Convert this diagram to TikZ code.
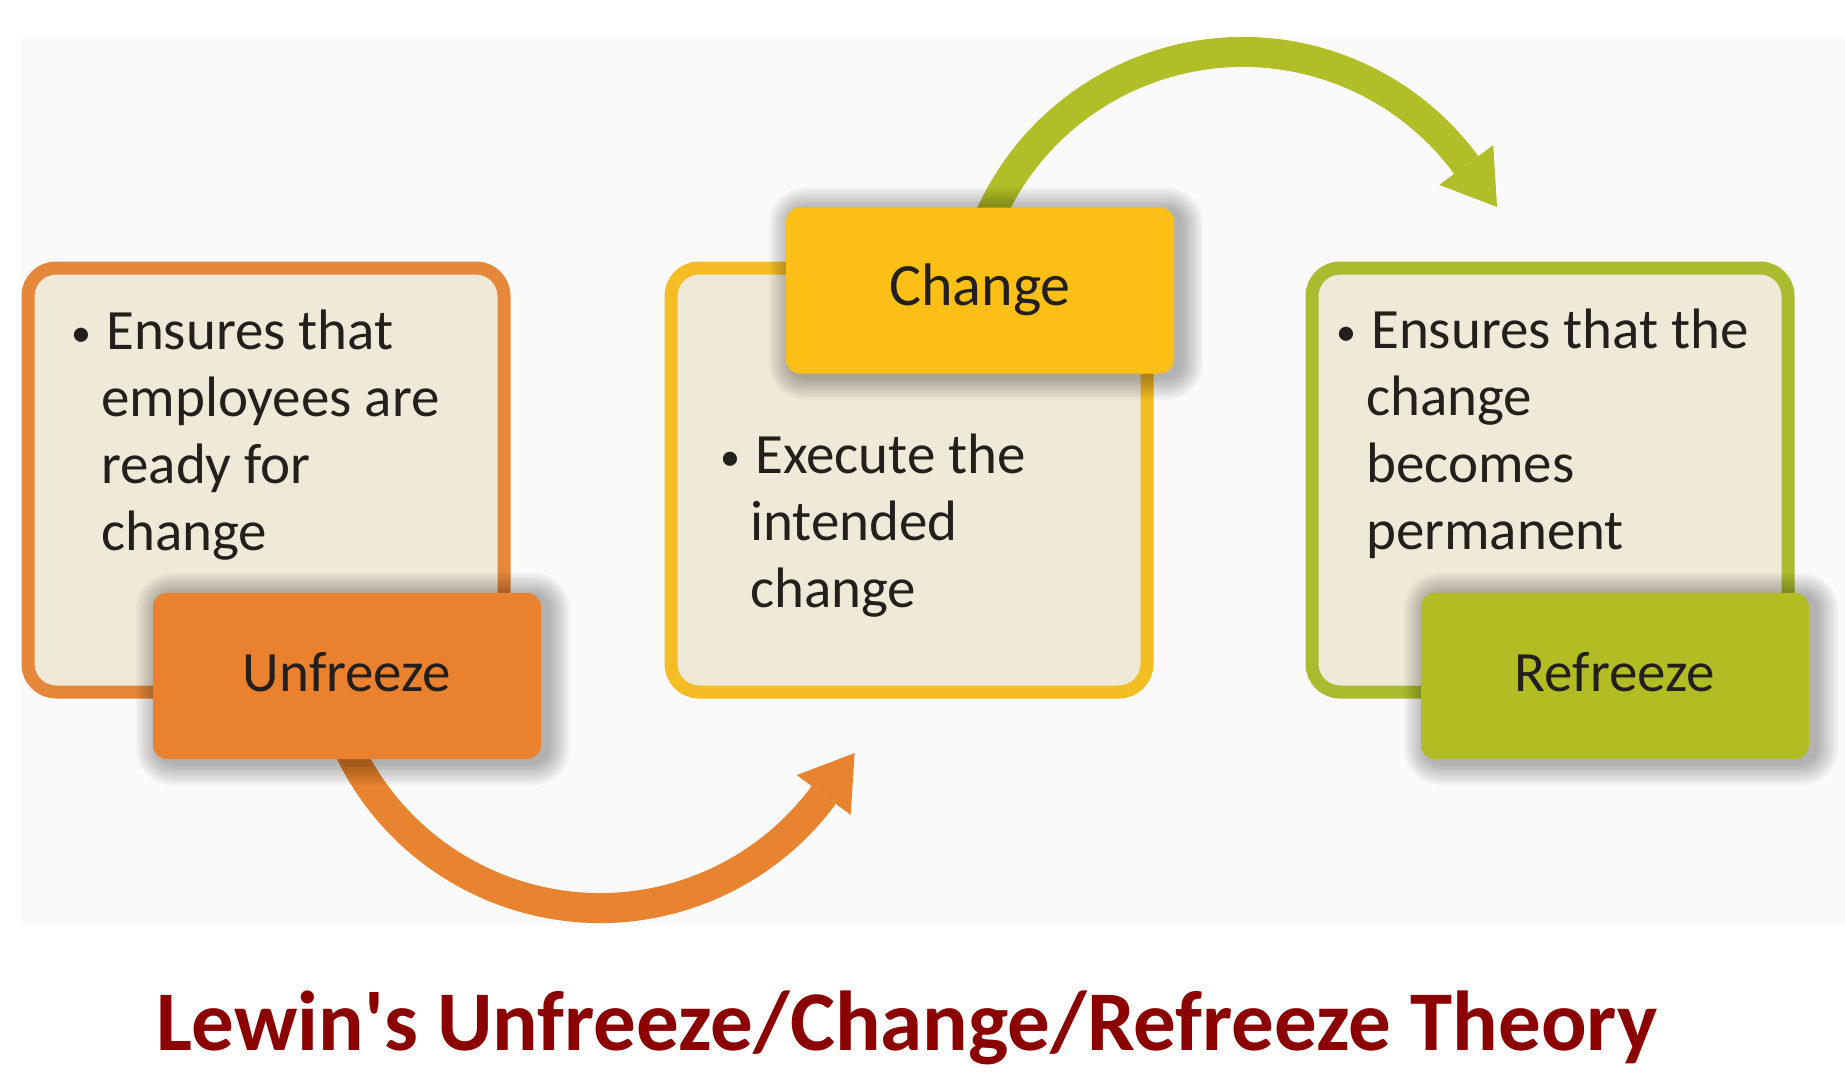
\documentclass[tikz,border=0pt]{standalone}
\usepackage{fontspec}
\setmainfont{Carlito}
\usetikzlibrary{calc}
\definecolor{panelC}{HTML}{FAFAFA}
\definecolor{creamC}{HTML}{EFE9D7}
\definecolor{orB}{HTML}{E5873A}
\definecolor{orF}{HTML}{E9812F}
\definecolor{yeB}{HTML}{F4BD24}
\definecolor{yeF}{HTML}{FBBF16}
\definecolor{grB}{HTML}{AABB30}
\definecolor{grF}{HTML}{B2BD24}
\definecolor{orA}{HTML}{E8832F}
\definecolor{grA}{HTML}{B1BE27}
\definecolor{titleC}{HTML}{8B0000}
\definecolor{textC}{HTML}{231F1C}
\pgfdeclarelayer{bg}
\pgfdeclarelayer{arr}
\pgfdeclarelayer{outer}
\pgfdeclarelayer{shad}
\pgfsetlayers{bg,arr,outer,shad,main}
\newcommand{\bul}{\llap{\makebox[20pt][c]{\fontsize{40}{40}\selectfont\raisebox{3pt}{\textbullet}}\hspace{10pt}}\hspace{5pt}}
\begin{document}
\begin{tikzpicture}[x=1pt,y=-1pt,
  outerbox/.style={draw, line width=13pt, fill=creamC, rounded corners=28pt,
    minimum width=476pt, minimum height=424pt, inner sep=0pt},
  labelbox/.style={rounded corners=14pt, minimum width=388pt, minimum height=166pt,
    inner sep=0pt, text height=30pt, text depth=0pt, text=textC,
    font=\fontsize{57}{67}\selectfont},
  bodytext/.style={anchor=base west, inner sep=0pt, text=textC,
    font=\fontsize{57}{67}\selectfont},
  band/.style={line width=30pt},
  titletext/.style={anchor=base, inner sep=0pt, text=titleC,
    font=\fontsize{85}{100}\selectfont\bfseries}
]
\useasboundingbox (0,0) rectangle (1845,1073);
\begin{pgfonlayer}{bg}
  \fill[white] (0,0) rectangle (1845,1073);
  \fill[panelC] (21,38) rectangle (1845,924);
\end{pgfonlayer}

% outer boxes
\begin{pgfonlayer}{outer}
  \node[outerbox, draw=orB] (box1) at (266,480) {};
  \node[outerbox, draw=yeB] (box2) at (909,480) {};
  \node[outerbox, draw=grB] (box3) at (1550,480) {};
\end{pgfonlayer}

% label boxes
\node[labelbox, fill=orF] (unf) at (347,676) {Unfreeze};
\node[labelbox, fill=yeF, font=\fontsize{60}{67}\selectfont] (chg) at (980,290.5) {Change};
\node[labelbox, fill=grF] (ref) at (1615,676) {Refreeze};

% soft shadows of label boxes
\begin{pgfonlayer}{shad}
  \foreach \n in {unf,chg,ref}{
    \foreach \k [evaluate=\k as \r using 14+2.3*\k, evaluate=\k as \d using 2.3*\k] in {1,...,10}{
      \fill[black, opacity=0.03, rounded corners=\r pt]
        ($(\n.south west)+(-\d+6,\d+3)$) rectangle ($(\n.north east)+(\d+6,-\d+3)$);
    }
  }
\end{pgfonlayer}

% body texts
\node[bodytext] (txt1) at (101,349) {\begin{tabular}[t]{@{}l@{}}\bul Ensures that\\ employees are\\ ready for\\ change\end{tabular}};
\node[bodytext] (txt2) at (750,473) {\begin{tabular}[t]{@{}l@{}}\bul Execute the\\ intended\\ change\end{tabular}};
\node[bodytext] (txt3) at (1366,348) {\begin{tabular}[t]{@{}l@{}}\bul Ensures that the\\ change\\ becomes\\ permanent\end{tabular}};

% connectors
\begin{pgfonlayer}{arr}
  \coordinate (oS) at ($(600,630)+(158:278)$);
  \coordinate (oE) at ($(600,630)+(36.4:278)$);
  \draw[band, orA] (oS) arc[start angle=158, end angle=36.4, radius=278];
  \fill[orA] ($(oE)+(-53.6:52)$) -- ($(oE)+(36.4:33.5)$) -- ($(oE)+(216.4:33.5)$) -- cycle;
  \coordinate (gS) at ($(1243,329)+(-160:277)$);
  \coordinate (gE) at ($(1243,329)+(-36.3:277)$);
  \draw[band, grA] (gS) arc[start angle=-160, end angle=-36.3, radius=277];
  \fill[grA] ($(gE)+(53.7:52)$) -- ($(gE)+(-36.3:33.5)$) -- ($(gE)+(143.7:33.5)$) -- cycle;
\end{pgfonlayer}

% title
\node[titletext] (ttl) at (907,1050) {Lewin\textquotesingle s Unfreeze/Change/Refreeze Theory};
\end{tikzpicture}
\end{document}
